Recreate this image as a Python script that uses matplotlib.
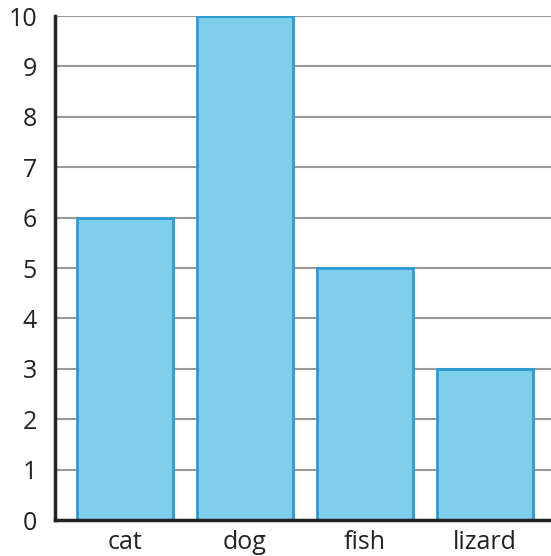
import matplotlib
matplotlib.use("Agg")
from matplotlib import pyplot as plt

# data
animals = ["cat", "dog", "fish", "lizard"]
counts = [6, 10, 5, 3]
y_ticks = list(range(0, 11))

plt.rcParams['font.family'] = ['Open Sans', 'DejaVu Sans']

fig = plt.figure(figsize=(5.51, 5.56), dpi=100)
ax = fig.add_axes([55 / 551, 36 / 556, 496 / 551, 504 / 556])

x = list(range(len(animals)))
ax.bar(x, counts, width=0.8, color="#7fcfec", edgecolor="#2a9bd5",
       linewidth=2, zorder=2)

ax.set_xlim(-0.583, 3.55)
ax.set_ylim(0, 10)
ax.set_yticks(y_ticks)
ax.set_xticks(x)
ax.set_xticklabels(animals)
ax.tick_params(axis="both", length=0, labelsize=18, colors="#222222")
ax.tick_params(axis="y", pad=13)
ax.tick_params(axis="x", pad=7)

ax.yaxis.grid(True, color="#999999", linewidth=1.5, zorder=0)
ax.set_axisbelow(True)

for side in ["top", "right"]:
    ax.spines[side].set_visible(False)
for side in ["left", "bottom"]:
    ax.spines[side].set_color("#222222")
    ax.spines[side].set_linewidth(2.5)

plt.savefig("out.png", dpi=100)
